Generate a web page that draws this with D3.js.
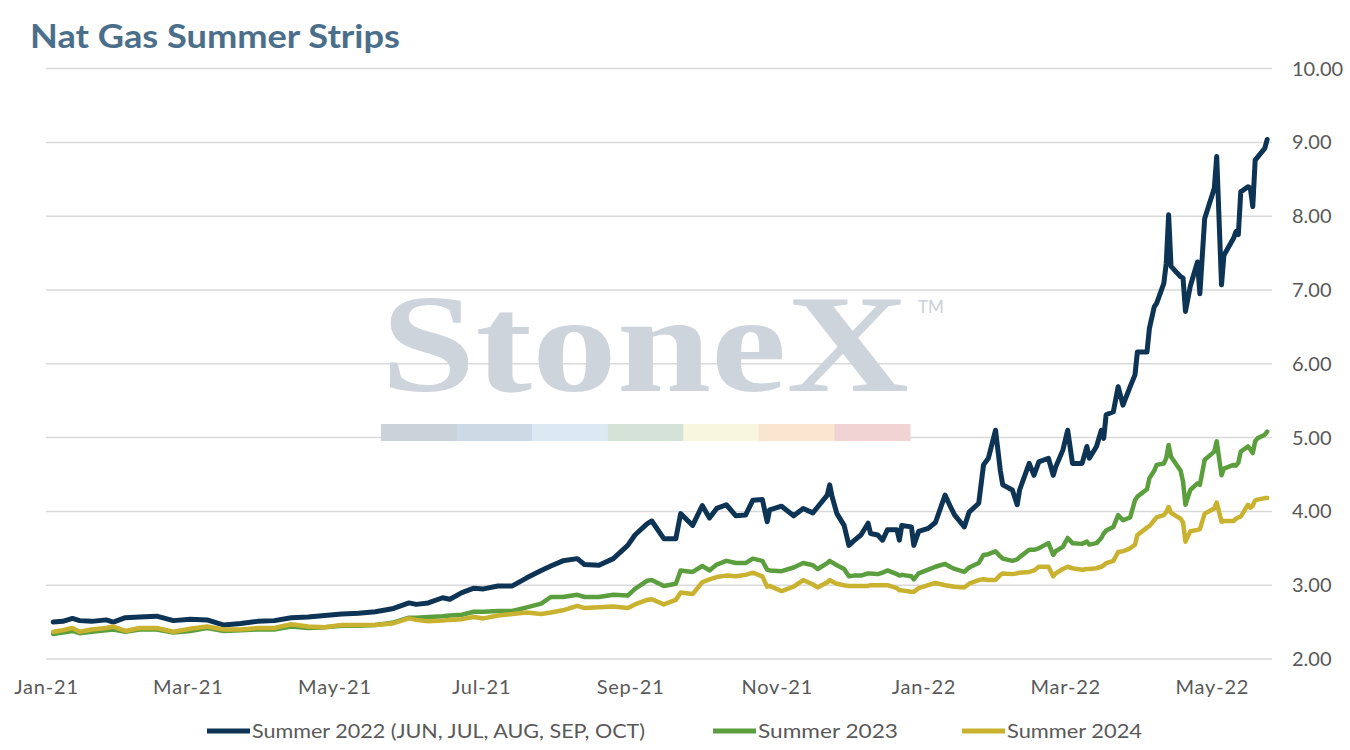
<!DOCTYPE html>
<html>
<head>
  <meta charset="utf-8">
  <title>Nat Gas Summer Strips</title>
  <style>
    body { margin: 0; background: #fff; }
    svg text { font-family: Lato, "Open Sans", sans-serif; }
  </style>
  <script src="https://d3js.org/d3.v7.min.js"></script>
</head>
<body>
<div id="chart"></div>
<script>
// ---- data ----
const dates = [
  "2021-01-04","2021-01-08","2021-01-12","2021-01-15","2021-01-20","2021-01-26","2021-01-29",
  "2021-02-03","2021-02-09","2021-02-16","2021-02-23","2021-03-02","2021-03-09","2021-03-16",
  "2021-03-23","2021-03-30","2021-04-06","2021-04-13","2021-04-20","2021-04-27","2021-05-04",
  "2021-05-11","2021-05-18","2021-05-25","2021-06-01","2021-06-04","2021-06-09","2021-06-15",
  "2021-06-18","2021-06-23","2021-06-28","2021-07-02","2021-07-08","2021-07-14","2021-07-20",
  "2021-07-26","2021-07-30","2021-08-04","2021-08-10","2021-08-13","2021-08-19","2021-08-25",
  "2021-08-31","2021-09-03","2021-09-08","2021-09-10","2021-09-15","2021-09-20","2021-09-22",
  "2021-09-27","2021-10-01","2021-10-04","2021-10-07","2021-10-11","2021-10-15","2021-10-19",
  "2021-10-22","2021-10-26","2021-10-28","2021-10-29","2021-11-03","2021-11-08","2021-11-12",
  "2021-11-16","2021-11-18","2021-11-22","2021-11-23","2021-11-24","2021-11-26","2021-11-29",
  "2021-12-01","2021-12-03","2021-12-06","2021-12-09","2021-12-10","2021-12-13","2021-12-15",
  "2021-12-17","2021-12-21","2021-12-22","2021-12-23","2021-12-27","2021-12-28","2021-12-30",
  "2022-01-03","2022-01-06","2022-01-10","2022-01-12","2022-01-14","2022-01-18","2022-01-20",
  "2022-01-24","2022-01-26","2022-01-28","2022-01-31","2022-02-02","2022-02-03","2022-02-07",
  "2022-02-09","2022-02-10","2022-02-14","2022-02-16","2022-02-18","2022-02-22","2022-02-24",
  "2022-02-25","2022-02-28","2022-03-02","2022-03-04","2022-03-08","2022-03-10","2022-03-11",
  "2022-03-14","2022-03-16","2022-03-17","2022-03-18","2022-03-21","2022-03-23","2022-03-25",
  "2022-03-28","2022-03-30","2022-03-31","2022-04-04","2022-04-05","2022-04-07","2022-04-08",
  "2022-04-11","2022-04-12","2022-04-13","2022-04-14","2022-04-18","2022-04-19","2022-04-20",
  "2022-04-22","2022-04-25","2022-04-26","2022-04-28","2022-05-02","2022-05-03","2022-05-05",
  "2022-05-06","2022-05-10","2022-05-11","2022-05-12","2022-05-13","2022-05-16","2022-05-17",
  "2022-05-18","2022-05-19","2022-05-20","2022-05-23","2022-05-24"
];

const summer2022 = [
  2.50,2.51,2.55,2.52,2.51,2.53,2.50,
  2.56,2.57,2.58,2.52,2.54,2.53,2.46,
  2.48,2.51,2.52,2.56,2.57,2.59,2.61,
  2.62,2.64,2.68,2.76,2.74,2.76,2.83,
  2.81,2.90,2.96,2.95,2.99,2.99,3.10,
  3.20,3.26,3.33,3.36,3.28,3.27,3.36,
  3.54,3.68,3.83,3.87,3.63,3.63,3.97,
  3.81,4.08,3.91,4.04,4.09,3.94,3.95,
  4.15,4.16,3.86,4.02,4.07,3.94,4.04,
  3.98,4.06,4.22,4.36,4.20,3.97,3.81,
  3.54,3.60,3.68,3.84,3.70,3.68,3.61,
  3.75,3.75,3.61,3.81,3.79,3.54,3.73,
  3.77,3.85,4.22,4.08,3.95,3.79,3.99,
  4.11,4.63,4.72,5.10,4.55,4.36,4.29,
  4.09,4.29,4.65,4.49,4.67,4.72,4.49,
  4.60,4.83,5.10,4.65,4.65,4.88,4.72,
  4.88,5.10,4.99,5.31,5.35,5.69,5.44,
  5.69,5.85,6.16,6.16,6.48,6.77,6.82,
  7.09,7.36,8.02,7.32,7.18,7.16,6.71,
  7.05,7.38,6.95,7.97,8.38,8.81,7.07,
  7.47,7.70,7.79,7.75,8.33,8.40,8.38,
  8.13,8.76,8.80,8.92,9.04
];

const summer2023 = [
  2.34,2.36,2.38,2.35,2.37,2.39,2.40,
  2.37,2.40,2.40,2.36,2.38,2.42,2.38,
  2.39,2.40,2.40,2.44,2.42,2.43,2.45,
  2.45,2.46,2.49,2.56,2.56,2.57,2.58,
  2.59,2.60,2.64,2.64,2.65,2.65,2.70,
  2.75,2.84,2.84,2.87,2.84,2.84,2.87,
  2.86,2.95,3.06,3.07,2.99,3.02,3.20,
  3.18,3.26,3.20,3.28,3.33,3.30,3.30,
  3.36,3.33,3.21,3.20,3.19,3.24,3.30,
  3.27,3.22,3.30,3.33,3.31,3.27,3.22,
  3.12,3.13,3.13,3.16,3.16,3.15,3.17,
  3.20,3.15,3.13,3.14,3.12,3.08,3.16,
  3.21,3.25,3.29,3.25,3.22,3.18,3.24,
  3.30,3.41,3.42,3.46,3.39,3.36,3.33,
  3.35,3.38,3.48,3.48,3.50,3.57,3.41,
  3.46,3.52,3.64,3.57,3.56,3.59,3.55,
  3.57,3.64,3.70,3.74,3.79,3.95,3.88,
  3.92,4.15,4.20,4.30,4.45,4.55,4.63,
  4.65,4.72,4.90,4.74,4.55,4.40,4.09,
  4.29,4.38,4.36,4.70,4.81,4.95,4.49,
  4.58,4.63,4.62,4.66,4.81,4.88,4.84,
  4.79,4.95,4.99,5.04,5.08
];

const summer2024 = [
  2.37,2.39,2.42,2.37,2.40,2.42,2.44,
  2.38,2.42,2.42,2.37,2.41,2.44,2.40,
  2.40,2.42,2.42,2.47,2.44,2.43,2.46,
  2.46,2.46,2.48,2.55,2.53,2.51,2.52,
  2.53,2.54,2.57,2.55,2.59,2.61,2.63,
  2.61,2.63,2.66,2.72,2.69,2.70,2.71,
  2.69,2.74,2.80,2.81,2.74,2.80,2.90,
  2.88,3.04,3.08,3.11,3.13,3.12,3.14,
  3.17,3.12,2.98,2.99,2.92,2.98,3.07,
  3.01,2.97,3.04,3.07,3.05,3.02,3.00,
  2.99,2.99,2.99,2.99,3.00,3.00,3.00,
  3.00,2.96,2.93,2.93,2.91,2.91,2.96,
  3.00,3.03,3.00,2.99,2.98,2.97,3.02,
  3.07,3.08,3.07,3.07,3.14,3.16,3.15,
  3.16,3.17,3.18,3.20,3.25,3.25,3.12,
  3.16,3.22,3.25,3.23,3.21,3.22,3.22,
  3.23,3.25,3.27,3.30,3.33,3.45,3.46,
  3.50,3.55,3.68,3.78,3.80,3.88,3.92,
  3.95,3.99,4.06,3.98,3.90,3.85,3.59,
  3.73,3.75,3.76,3.97,4.04,4.12,3.86,
  3.87,3.87,3.90,3.92,3.93,4.09,4.05,
  4.08,4.15,4.16,4.18,4.18
];

const seriesNames = ["Summer 2022 (JUN, JUL, AUG, SEP, OCT)", "Summer 2023", "Summer 2024"];
const seriesColors = ["#0d3455", "#5b9e3d", "#c9b230"];
const yTicks = [2, 3, 4, 5, 6, 7, 8, 9, 10];
const watermarkColors = ["#cbd2da", "#cdd9e5", "#dce9f3", "#d4e2d8", "#f8f6dc", "#f9e5d0", "#f1d3d4"];

// ---- layout ----
const width = 1350, height = 750;
const plotLeft = 46, plotRight = 1272, plotTop = 68.6, plotBottom = 659;

const svg = d3.select("#chart").append("svg")
  .attr("width", width)
  .attr("height", height);

const parse = d3.timeParse("%Y-%m-%d");
const x = d3.scaleTime()
  .domain([new Date(2021, 0, 1), new Date(2022, 4, 26)])
  .range([plotLeft, plotRight]);
const y = d3.scaleLinear().domain([2, 10]).range([plotBottom, plotTop]);

// title
svg.append("text")
  .attr("x", 30).attr("y", 48)
  .attr("font-size", 33).attr("font-weight", 700)
  .attr("textLength", 370).attr("lengthAdjust", "spacingAndGlyphs")
  .attr("fill", "#4b6f8a")
  .text("Nat Gas Summer Strips");

// gridlines
svg.append("g").selectAll("line").data(yTicks).join("line")
  .attr("x1", plotLeft).attr("x2", plotRight)
  .attr("y1", d => y(d)).attr("y2", d => y(d))
  .attr("stroke", "#d9d9d9").attr("stroke-width", 1.5);

// watermark
const wm = svg.append("g");
wm.append("text")
  .attr("x", 381).attr("y", 391)
  .attr("font-weight", 700)
  .attr("font-size", 140)
  .attr("textLength", 528).attr("lengthAdjust", "spacingAndGlyphs")
  .attr("fill", "#cdd4dc")
  .style("font-family", "'Liberation Serif', 'DejaVu Serif', serif")
  .text("StoneX");
wm.append("text")
  .attr("x", 918).attr("y", 313)
  .attr("font-size", 17)
  .attr("fill", "#c9d0d8")
  .text("TM");
const segW = (910 - 381) / watermarkColors.length;
wm.selectAll("rect").data(watermarkColors).join("rect")
  .attr("x", (d, i) => 381 + i * segW)
  .attr("y", 424).attr("width", segW + 0.5).attr("height", 17)
  .attr("fill", d => d);

// y axis labels (right side)
svg.append("g").selectAll("text").data(yTicks).join("text")
  .attr("x", 1292).attr("y", d => y(d))
  .attr("dy", "0.35em")
  .attr("font-size", 20)
  .attr("fill", "#595959")
  .text(d => d.toFixed(2));

// x axis
const xAxis = d3.axisBottom(x)
  .ticks(d3.timeMonth.every(2))
  .tickFormat(d3.timeFormat("%b-%y"))
  .tickSize(0)
  .tickPadding(0);
const gx = svg.append("g")
  .attr("transform", `translate(0, ${plotBottom + 21})`)
  .call(xAxis);
gx.select(".domain").remove();
gx.selectAll("text")
  .attr("font-size", 20)
  .attr("fill", "#595959")
  .style("letter-spacing", "0.8px")
  .style("font-family", "Lato, sans-serif");

// lines
const allSeries = [summer2022, summer2023, summer2024].map((vals, i) => ({
  name: seriesNames[i],
  color: seriesColors[i],
  width: i === 0 ? 5 : 4.5,
  points: vals.map((v, j) => ({ date: parse(dates[j]), value: v }))
}));

const line = d3.line()
  .x(d => x(d.date))
  .y(d => y(d.value));

svg.append("g").selectAll("path").data(allSeries).join("path")
  .attr("d", d => line(d.points))
  .attr("fill", "none")
  .attr("stroke", d => d.color)
  .attr("stroke-width", d => d.width)
  .attr("stroke-linejoin", "round")
  .attr("stroke-linecap", "round");

// legend
const legendX = [207, 713, 962];
const legendTextW = [393, 140, 135];
const legend = svg.append("g").selectAll("g").data(allSeries).join("g")
  .attr("transform", (d, i) => `translate(${legendX[i]}, 731)`);
legend.append("line")
  .attr("x1", 0).attr("x2", 43)
  .attr("stroke", d => d.color)
  .attr("stroke-width", 5);
legend.append("text")
  .attr("x", 45).attr("dy", "0.35em")
  .attr("font-size", 20)
  .attr("textLength", (d, i) => legendTextW[i])
  .attr("lengthAdjust", "spacingAndGlyphs")
  .attr("fill", "#595959")
  .text(d => d.name);
</script>
</body>
</html>
